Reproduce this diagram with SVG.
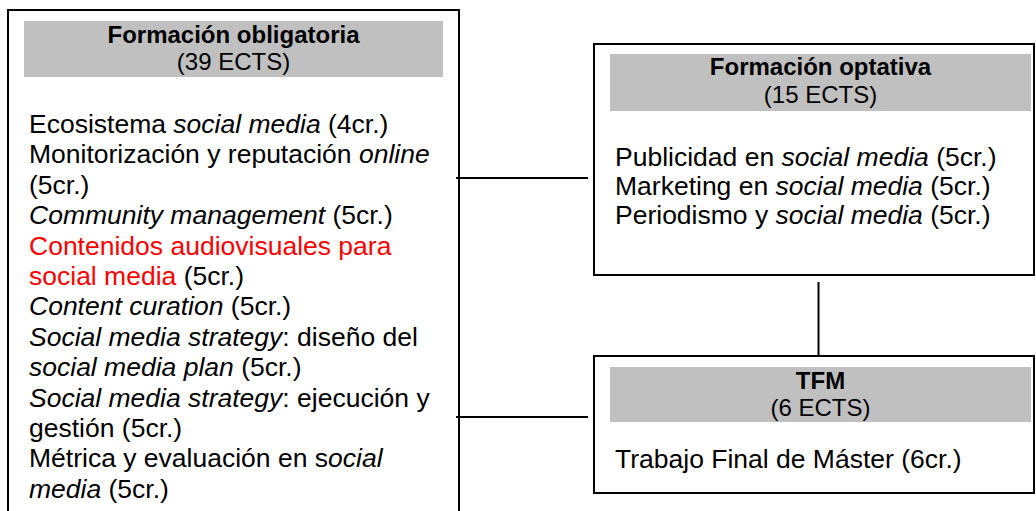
<svg xmlns="http://www.w3.org/2000/svg" width="1036" height="511" viewBox="0 0 1036 511">
<style>
.box{fill:#ffffff;stroke:#000000;stroke-width:2}
.hdr{fill:#c0c0c0}
.ht{font-family:"Liberation Sans",Arial,sans-serif;font-size:24px;text-anchor:middle;fill:#000000}
.b{font-weight:bold}
.t{font-family:"Liberation Sans",Arial,sans-serif;font-size:26.5px;fill:#000000}
.i{font-style:italic}
.red{fill:#ff0000}
.conn{stroke:#000000;stroke-width:2;fill:none}
</style>
<rect x="0" y="0" width="1036" height="511" fill="#ffffff"/>
<g id="obligatoria">
<rect class="box" x="8" y="10" width="451" height="520"/>
<rect class="hdr" x="24" y="21" width="419" height="56"/>
<text class="ht b" x="233.5" y="42.5">Formación obligatoria</text>
<text class="ht" x="233.5" y="70">(39 ECTS)</text>
<text class="t" x="29" y="133">Ecosistema <tspan class="i">social media</tspan> (4cr.)</text>
<text class="t" x="29" y="163.4">Monitorización y reputación <tspan class="i">online</tspan></text>
<text class="t" x="29" y="193.8">(5cr.)</text>
<text class="t" x="29" y="224.2"><tspan class="i">Community management</tspan> (5cr.)</text>
<text class="t red" x="29" y="254.6">Contenidos audiovisuales para</text>
<text class="t" x="29" y="285"><tspan class="red">social media</tspan> (5cr.)</text>
<text class="t" x="29" y="315.4"><tspan class="i">Content curation</tspan> (5cr.)</text>
<text class="t" x="29" y="345.8"><tspan class="i">Social media strategy</tspan>: diseño del</text>
<text class="t" x="29" y="376.2"><tspan class="i">social media plan</tspan> (5cr.)</text>
<text class="t" x="29" y="406.6"><tspan class="i">Social media strategy</tspan>: ejecución y</text>
<text class="t" x="29" y="437">gestión (5cr.)</text>
<text class="t" x="29" y="467.4">Métrica y evaluación en s<tspan class="i">ocial</tspan></text>
<text class="t" x="29" y="497.8"><tspan class="i">media</tspan> (5cr.)</text>
</g>
<g id="optativa">
<rect class="box" x="594" y="44" width="440" height="231"/>
<rect class="hdr" x="610" y="54" width="421" height="57"/>
<text class="ht b" x="820.5" y="75">Formación optativa</text>
<text class="ht" x="820.5" y="102.5">(15 ECTS)</text>
<text class="t" x="615" y="166">Publicidad en <tspan class="i">social media</tspan> (5cr.)</text>
<text class="t" x="615" y="195">Marketing en <tspan class="i">social media</tspan> (5cr.)</text>
<text class="t" x="615" y="224">Periodismo y <tspan class="i">social media</tspan> (5cr.)</text>
</g>
<g id="tfm">
<rect class="box" x="594" y="356" width="440" height="137"/>
<rect class="hdr" x="610" y="367" width="421" height="55"/>
<text class="ht b" x="820.5" y="389">TFM</text>
<text class="ht" x="820.5" y="415.5">(6 ECTS)</text>
<text class="t" x="615" y="468">Trabajo Final de Máster (6cr.)</text>
</g>
<g id="connectors">
<line class="conn" x1="456" y1="178" x2="588" y2="178"/>
<line class="conn" x1="456" y1="417" x2="588" y2="417"/>
<line class="conn" x1="818.5" y1="282" x2="818.5" y2="356"/>
</g>
</svg>
